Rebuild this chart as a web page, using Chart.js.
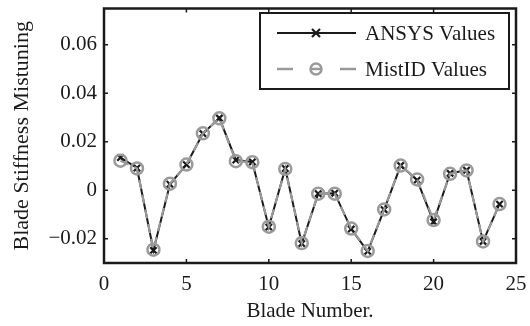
<!DOCTYPE html>
<html>
<head>
<meta charset="utf-8">
<script src="https://cdn.jsdelivr.net/npm/chart.js@4.4.1/dist/chart.umd.min.js"></script>
<style>
  html, body { margin: 0; padding: 0; background: #fff; }
  #wrap { width: 530px; height: 326px; }
</style>
</head>
<body>
<div id="wrap"><canvas id="c" width="530" height="326"></canvas></div>
<script>
// blade numbers and mistuning values
const blades = [1, 2, 3, 4, 5, 6, 7, 8, 9, 10, 11, 12, 13, 14, 15, 16, 17, 18, 19, 20, 21, 22, 23, 24];
const ansysValues  = [0.0135, 0.0092, -0.0248, 0.0025, 0.0106, 0.0234, 0.0298, 0.0125, 0.0117, -0.0152, 0.0090, -0.0220, -0.0014, -0.0012, -0.0160, -0.0252, -0.0080, 0.0102, 0.0042, -0.0130, 0.0070, 0.0083, -0.0211, -0.0057];
const mistidValues = [0.0122, 0.0090, -0.0245, 0.0027, 0.0106, 0.0235, 0.0297, 0.0120, 0.0116, -0.0150, 0.0088, -0.0218, -0.0014, -0.0014, -0.0158, -0.0250, -0.0079, 0.0102, 0.0045, -0.0123, 0.0068, 0.0082, -0.0211, -0.0057];
const xTicks = [0, 5, 10, 15, 20, 25];
const yTicks = [-0.02, 0, 0.02, 0.04, 0.06];
const seriesNames = ['ANSYS Values', 'MistID Values'];

const FONT = 'Liberation Serif';
const INK = '#1a1a1a';
const GREY = '#9a9a9a';

const toPts = vals => blades.map((b, i) => ({ x: b, y: vals[i] }));

// no label-overflow padding, the plot box is fixed
const noPad = s => { s.paddingTop = 0; s.paddingBottom = 0; s.paddingLeft = 0; s.paddingRight = 0; };

// box around the axes with inward ticks (matlab style) + legend
const matlabFrame = {
  id: 'matlabFrame',
  afterDatasetsDraw(chart) {
    const { ctx, chartArea: a, scales: { x, y } } = chart;
    ctx.save();
    ctx.strokeStyle = INK;
    ctx.lineWidth = 1.5;
    const tl = 4;
    ctx.beginPath();
    x.ticks.forEach(t => {
      const px = x.getPixelForValue(t.value);
      ctx.moveTo(px, a.bottom); ctx.lineTo(px, a.bottom - tl);
      ctx.moveTo(px, a.top); ctx.lineTo(px, a.top + tl);
    });
    y.ticks.forEach(t => {
      const py = y.getPixelForValue(t.value);
      ctx.moveTo(a.left, py); ctx.lineTo(a.left + tl, py);
      ctx.moveTo(a.right, py); ctx.lineTo(a.right - tl, py);
    });
    ctx.stroke();
    ctx.lineWidth = 2.5;
    ctx.strokeRect(a.left, a.top, a.right - a.left, a.bottom - a.top);

    // legend
    const bx = 260, by = 13, bw = 249, bh = 76;
    ctx.fillStyle = '#fff';
    ctx.fillRect(bx, by, bw, bh);
    ctx.lineWidth = 2;
    ctx.strokeRect(bx, by, bw, bh);
    const rows = [by + 20, by + 56];
    const x0 = 277, x1 = 356, xm = 316;
    // ANSYS row
    ctx.strokeStyle = INK;
    ctx.lineWidth = 2;
    ctx.beginPath(); ctx.moveTo(x0, rows[0]); ctx.lineTo(x1, rows[0]); ctx.stroke();
    ctx.lineWidth = 2.2;
    ctx.beginPath();
    ctx.moveTo(xm - 4, rows[0] - 4); ctx.lineTo(xm + 4, rows[0] + 4);
    ctx.moveTo(xm + 4, rows[0] - 4); ctx.lineTo(xm - 4, rows[0] + 4);
    ctx.stroke();
    // MistID row
    ctx.strokeStyle = GREY;
    ctx.lineWidth = 2.5;
    ctx.beginPath();
    ctx.moveTo(x0, rows[1]); ctx.lineTo(x0 + 16, rows[1]);
    ctx.moveTo(x1 - 16, rows[1]); ctx.lineTo(x1, rows[1]);
    ctx.stroke();
    ctx.beginPath(); ctx.arc(xm, rows[1], 5.5, 0, Math.PI * 2); ctx.stroke();
    ctx.beginPath(); ctx.moveTo(xm - 5, rows[1]); ctx.lineTo(xm + 5, rows[1]); ctx.stroke();

    ctx.fillStyle = INK;
    ctx.font = '21px "' + FONT + '"';
    ctx.textBaseline = 'middle';
    ctx.textAlign = 'left';
    ctx.fillText(seriesNames[0], 365, rows[0] + 1);
    ctx.fillText(seriesNames[1], 365, rows[1] + 1);
    ctx.restore();
  }
};

new Chart(document.getElementById('c'), {
  type: 'line',
  data: {
    datasets: [
      {
        label: seriesNames[0],
        data: toPts(ansysValues),
        borderColor: INK,
        borderWidth: 2,
        pointStyle: 'crossRot',
        pointRadius: 4.5,
        pointBorderWidth: 2.2,
        pointBorderColor: INK,
        tension: 0,
        order: 2
      },
      {
        label: seriesNames[1],
        data: toPts(mistidValues),
        borderColor: GREY,
        borderWidth: 2.2,
        borderDash: [9, 6],
        pointStyle: 'circle',
        pointRadius: 6,
        pointBorderWidth: 2.5,
        pointBorderColor: GREY,
        pointBackgroundColor: 'rgba(0,0,0,0)',
        tension: 0,
        order: 1
      }
    ]
  },
  options: {
    responsive: false,
    animation: false,
    devicePixelRatio: 1,
    layout: { padding: { left: 0, top: 5, right: 14, bottom: 0 } },
    plugins: { legend: { display: false }, tooltip: { enabled: false } },
    scales: {
      x: {
        type: 'linear',
        min: 0, max: 25,
        afterBuildTicks: s => { s.ticks = xTicks.map(v => ({ value: v })); },
        afterFit: s => { s.height = 63; noPad(s); },
        grid: { display: false, drawTicks: false },
        border: { display: false },
        ticks: { color: INK, padding: 9, font: { family: FONT, size: 21 } },
        title: { display: true, text: 'Blade Number.', color: INK, padding: { top: 0, bottom: 2 }, font: { family: FONT, size: 21 } }
      },
      y: {
        min: -0.03, max: 0.075,
        afterBuildTicks: s => { s.ticks = yTicks.map(v => ({ value: v })); },
        afterFit: s => { s.width = 104; noPad(s); },
        grid: { display: false, drawTicks: false },
        border: { display: false },
        ticks: {
          color: INK, padding: 7, font: { family: FONT, size: 21 },
          callback: v => (v < 0 ? '\u2212' + Math.abs(v).toFixed(2) : (v === 0 ? '0' : v.toFixed(2)))
        },
        title: { display: true, text: 'Blade Stiffness Mistuning', color: INK, padding: { top: 9, bottom: 0 }, font: { family: FONT, size: 22 } }
      }
    }
  },
  plugins: [matlabFrame]
});
</script>
</body>
</html>
